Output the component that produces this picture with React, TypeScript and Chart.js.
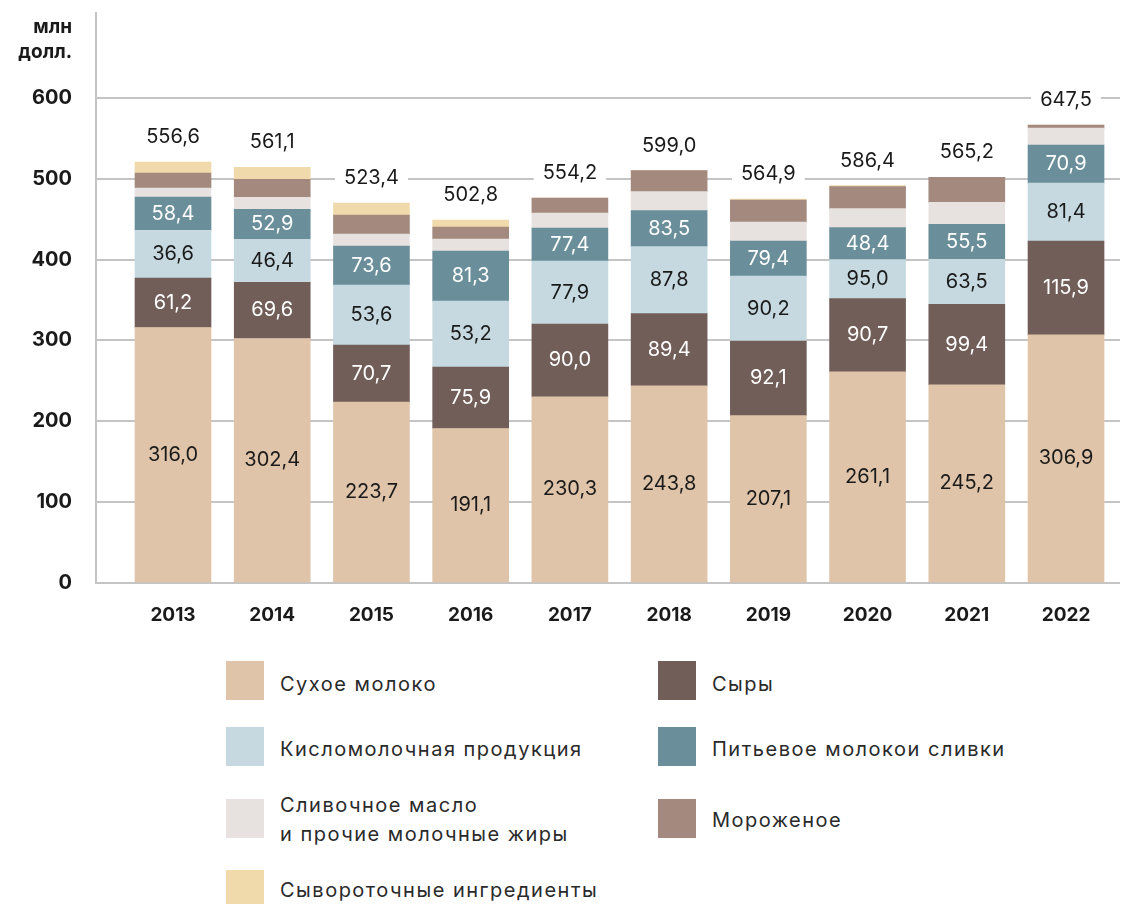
import React, { useEffect, useRef } from "react";
import { Chart, registerables } from "chart.js";

Chart.register(...registerables);

const years = ["2013", "2014", "2015", "2016", "2017", "2018", "2019", "2020", "2021", "2022"];

// segment heights as drawn in the picture
const dryMilk = [316.0, 302.4, 223.7, 191.1, 230.3, 243.8, 207.1, 261.1, 245.2, 306.9];
const cheese = [61.2, 69.6, 70.7, 75.9, 90.0, 89.4, 92.1, 90.7, 99.4, 115.9];
const fermented = [59.0, 53.2, 74.2, 81.6, 77.9, 82.9, 80.4, 48.2, 55.7, 71.8];
const drinkMilk = [41.2, 37.1, 48.2, 61.9, 40.8, 44.5, 43.3, 39.6, 43.3, 47.0];
const butter = [11.1, 14.8, 14.8, 14.8, 18.6, 23.5, 23.5, 23.5, 27.2, 21.0];
const iceCream = [18.6, 22.3, 23.5, 14.8, 18.6, 26.0, 27.2, 27.2, 30.9, 3.7];
const whey = [13.6, 14.8, 14.8, 8.7, 0, 0, 1.2, 1.2, 0, 0];

// value labels printed on the chart
const dryLabels = ["316,0", "302,4", "223,7", "191,1", "230,3", "243,8", "207,1", "261,1", "245,2", "306,9"];
const cheeseLabels = ["61,2", "69,6", "70,7", "75,9", "90,0", "89,4", "92,1", "90,7", "99,4", "115,9"];
const fermentedLabels = ["36,6", "46,4", "53,6", "53,2", "77,9", "87,8", "90,2", "95,0", "63,5", "81,4"];
const drinkLabels = ["58,4", "52,9", "73,6", "81,3", "77,4", "83,5", "79,4", "48,4", "55,5", "70,9"];
const totalLabels = ["556,6", "561,1", "523,4", "502,8", "554,2", "599,0", "564,9", "586,4", "565,2", "647,5"];

const yTicks = [0, 100, 200, 300, 400, 500, 600];

const seriesNames = [
  "Сухое молоко",
  "Сыры",
  "Кисломолочная продукция",
  "Питьевое молокои сливки",
  "Сливочное масло\nи прочие молочные жиры",
  "Мороженое",
  "Сывороточные ингредиенты",
];
const colors = ["#dfc4a9", "#725e59", "#c6d9e0", "#6a8f9b", "#e7e1df", "#a48a7e", "#f0d9ab"];

const FONT = "Inter, 'Open Sans', sans-serif";

export default function App() {
  const ref = useRef<HTMLCanvasElement>(null);

  useEffect(() => {
    const canvas = ref.current;
    if (!canvas) return;
    const allSeries = [dryMilk, cheese, fermented, drinkMilk, butter, iceCream, whey];
    const labelSets = [dryLabels, cheeseLabels, fermentedLabels, drinkLabels];
    const labelColors = ["#1a1a1a", "#ffffff", "#1a1a1a", "#ffffff"];

    const labelPlugin = {
      id: "labels",
      afterDatasetsDraw(chart: any) {
        const ctx = chart.ctx;
        ctx.save();
        ctx.font = `20px ${FONT}`;
        ctx.textAlign = "center";
        ctx.textBaseline = "middle";
        labelSets.forEach((labels, di) => {
          const meta = chart.getDatasetMeta(di);
          meta.data.forEach((el: any, i: number) => {
            ctx.fillStyle = labelColors[di];
            ctx.fillText(labels[i], el.x, (el.y + el.base) / 2);
          });
        });
        const yScale = chart.scales.y;
        const xScale = chart.scales.x;
        years.forEach((_, i) => {
          let sum = 0;
          allSeries.forEach((s) => (sum += s[i]));
          const py = yScale.getPixelForValue(sum) - 25;
          const px = xScale.getPixelForValue(i);
          const w = ctx.measureText(totalLabels[i]).width;
          ctx.fillStyle = "#ffffff";
          ctx.fillRect(px - w / 2 - 9, py - 13, w + 18, 26);
          ctx.fillStyle = "#1a1a1a";
          ctx.fillText(totalLabels[i], px, py);
        });
        ctx.font = `bold 19px ${FONT}`;
        ctx.textAlign = "right";
        ctx.fillStyle = "#1a1a1a";
        ctx.fillText("млн", 72, 27);
        ctx.fillText("долл.", 72, 52);
        ctx.restore();
      },
    };

    const chart = new Chart(canvas, {
      type: "bar",
      data: {
        datasets: allSeries.map((s, di) => ({
          label: seriesNames[di],
          data: s.map((v, i) => ({ x: i, y: v })),
          backgroundColor: colors[di],
          borderWidth: 0,
          barThickness: 76,
        })),
      },
      options: {
        responsive: false,
        animation: false,
        devicePixelRatio: 1,
        layout: { padding: { top: 13, right: 6, left: 0, bottom: 0 } },
        plugins: { legend: { display: false }, tooltip: { enabled: false } },
        scales: {
          x: {
            type: "linear",
            stacked: true,
            offset: false,
            min: -0.776,
            max: 9.544,
            grid: { display: false },
            border: { display: false },
            afterBuildTicks: (scale: any) => {
              scale.ticks = years.map((_, i) => ({ value: i }));
            },
            afterFit: (scale: any) => {
              scale.height = 57;
              scale.paddingLeft = 0;
              scale.paddingRight = 0;
            },
            ticks: {
              autoSkip: false,
              maxRotation: 0,
              padding: 13,
              color: "#1a1a1a",
              font: { family: FONT, size: 19, weight: "bold" },
              callback: (v: any) => years[v] ?? "",
            },
          },
          y: {
            stacked: true,
            min: 0,
            max: 705,
            afterBuildTicks: (scale: any) => {
              scale.ticks = yTicks.map((v) => ({ value: v }));
            },
            afterFit: (scale: any) => {
              scale.width = 96;
              scale.paddingTop = 0;
              scale.paddingBottom = 0;
            },
            grid: { color: "#c4c4c4", lineWidth: 2, drawTicks: false },
            border: { display: true, color: "#c4c4c4", width: 2 },
            ticks: {
              padding: 24,
              color: "#1a1a1a",
              font: { family: FONT, size: 20, weight: "bold" },
            },
          },
        },
      },
      plugins: [labelPlugin],
    } as any);
    return () => chart.destroy();
  }, []);

  const legendItems = [
    { i: 0, sx: 226, sy: 661, tx: 280, ty: 684 },
    { i: 1, sx: 658, sy: 661, tx: 712, ty: 684 },
    { i: 2, sx: 226, sy: 727, tx: 280, ty: 749 },
    { i: 3, sx: 658, sy: 727, tx: 712, ty: 749 },
    { i: 4, sx: 226, sy: 799, tx: 280, ty: 820 },
    { i: 5, sx: 658, sy: 799, tx: 712, ty: 820 },
    { i: 6, sx: 226, sy: 870, tx: 280, ty: 890 },
  ];

  return (
    <div style={{ position: "absolute", left: 0, top: 0, width: 1126, height: 904, background: "#fff", overflow: "hidden" }}>
      <canvas ref={ref} width={1126} height={640} style={{ position: "absolute", left: 0, top: 0 }} />
      {legendItems.map((it) => (
        <React.Fragment key={it.i}>
          <div style={{ position: "absolute", left: it.sx, top: it.sy, width: 38, height: 39, background: colors[it.i] }} />
          <div
            style={{
              position: "absolute",
              left: it.tx,
              top: it.ty,
              transform: "translateY(-50%)",
              fontFamily: FONT,
              fontSize: 20,
              letterSpacing: "1.5px",
              lineHeight: "29px",
              color: "#2a2a2a",
              whiteSpace: "pre",
            }}
          >
            {seriesNames[it.i]}
          </div>
        </React.Fragment>
      ))}
    </div>
  );
}
